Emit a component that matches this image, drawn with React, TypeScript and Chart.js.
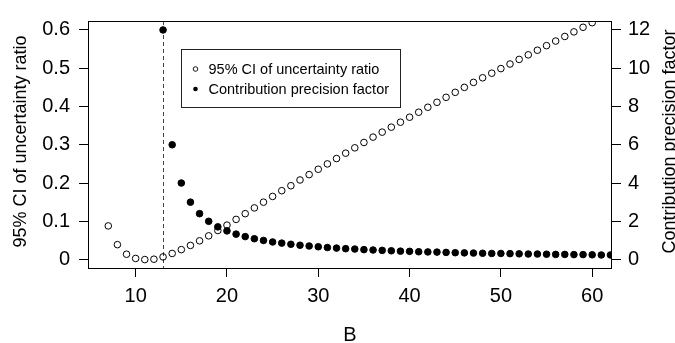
import React, { useEffect, useRef } from "react";
import { Chart, registerables } from "chart.js";

Chart.register(...registerables);

// ---- data ----
const B_CI = [
  7, 8, 9, 10, 11, 12, 13, 14, 15, 16, 17, 18, 19, 20, 21, 22, 23, 24, 25, 26,
  27, 28, 29, 30, 31, 32, 33, 34, 35, 36, 37, 38, 39, 40, 41, 42, 43, 44, 45, 46,
  47, 48, 49, 50, 51, 52, 53, 54, 55, 56, 57, 58, 59, 60, 61, 62,
];
const CI_RATIO = [
  0.088, 0.039, 0.014, 0.003, 0.0, 0.001, 0.007, 0.016, 0.026, 0.037, 0.049, 0.062,
  0.076, 0.09, 0.105, 0.12, 0.135, 0.15, 0.165, 0.18, 0.193, 0.208, 0.222, 0.236,
  0.25, 0.264, 0.278, 0.292, 0.306, 0.32, 0.333, 0.346, 0.359, 0.372, 0.385, 0.398,
  0.411, 0.424, 0.437, 0.45, 0.463, 0.475, 0.487, 0.499, 0.511, 0.523, 0.535, 0.547,
  0.559, 0.571, 0.583, 0.595, 0.607, 0.619, 0.631, 0.643,
];
const B_CPF = [
  13, 14, 15, 16, 17, 18, 19, 20, 21, 22, 23, 24, 25, 26, 27, 28, 29, 30, 31, 32,
  33, 34, 35, 36, 37, 38, 39, 40, 41, 42, 43, 44, 45, 46, 47, 48, 49, 50, 51, 52,
  53, 54, 55, 56, 57, 58, 59, 60, 61, 62,
];
const CPF = [
  12, 6, 4, 3, 2.4, 2, 1.71, 1.5, 1.33, 1.2, 1.09, 1.0, 0.92, 0.86, 0.8, 0.75, 0.71,
  0.67, 0.63, 0.6, 0.57, 0.55, 0.52, 0.5, 0.48, 0.46, 0.44, 0.43, 0.41, 0.4, 0.39,
  0.375, 0.36, 0.35, 0.34, 0.33, 0.32, 0.32, 0.31, 0.3, 0.29, 0.29, 0.28, 0.27, 0.27,
  0.26, 0.26, 0.25, 0.24, 0.24,
];
const CUTOFF_B = 13;
const LEGEND_LABELS = ["95% CI of uncertainty ratio", "Contribution precision factor"];
const LEGEND_AT = { x: 15, y: 0.55 };
const X_TITLE = "B";
const Y_TITLE = "95% CI of uncertainty ratio";
const Y1_TITLE = "Contribution precision factor";

const FAMILY = "'Liberation Sans', Arial, Helvetica, sans-serif";

const decor = {
  id: "decor",
  beforeDatasetsDraw(chart: any) {
    const { ctx, chartArea, scales } = chart;
    const x = Math.round(scales.x.getPixelForValue(CUTOFF_B)) + 0.5;
    ctx.save();
    ctx.strokeStyle = "#444";
    ctx.lineWidth = 1;
    ctx.setLineDash([4, 3]);
    ctx.beginPath();
    ctx.moveTo(x, chartArea.top);
    ctx.lineTo(x, chartArea.bottom);
    ctx.stroke();
    ctx.restore();
  },
  afterDraw(chart: any) {
    const { ctx, chartArea, scales } = chart;
    ctx.save();
    // box
    ctx.strokeStyle = "#000";
    ctx.lineWidth = 1;
    const l = Math.round(chartArea.left) + 0.5;
    const t = Math.round(chartArea.top) + 0.5;
    const r = Math.round(chartArea.right) - 0.5;
    const b = Math.round(chartArea.bottom) + 0.5;
    ctx.strokeRect(l, t, r - l, b - t);

    // legend
    const lx = Math.round(scales.x.getPixelForValue(LEGEND_AT.x)) + 0.5;
    const ly = Math.round(scales.y.getPixelForValue(LEGEND_AT.y)) + 0.5;
    const lw = 219;
    const lh = 58;
    ctx.fillStyle = "#fff";
    ctx.fillRect(lx, ly, lw, lh);
    ctx.strokeStyle = "#222";
    ctx.strokeRect(lx, ly, lw, lh);
    ctx.font = `14.5px ${FAMILY}`;
    ctx.textAlign = "left";
    ctx.textBaseline = "middle";
    const rows = [ly + 19.5, ly + 39.5];
    rows.forEach((yy, i) => {
      ctx.beginPath();
      ctx.arc(lx + 14, yy, 2.3, 0, Math.PI * 2);
      if (i === 0) {
        ctx.strokeStyle = "#000";
        ctx.lineWidth = 0.9;
        ctx.stroke();
      } else {
        ctx.fillStyle = "#000";
        ctx.fill();
      }
      ctx.fillStyle = "#000";
      ctx.fillText(LEGEND_LABELS[i], lx + 27, yy + 0.5);
    });

    // titles
    ctx.fillStyle = "#000";
    ctx.textBaseline = "alphabetic";
    ctx.textAlign = "center";
    ctx.font = `20px ${FAMILY}`;
    ctx.fillText(X_TITLE, (chartArea.left + chartArea.right) / 2, 341);

    ctx.font = `18px ${FAMILY}`;
    ctx.save();
    ctx.translate(26, 141.5);
    ctx.rotate(-Math.PI / 2);
    ctx.fillText(Y_TITLE, 0, 0);
    ctx.restore();

    ctx.save();
    ctx.translate(674.5, 141.5);
    ctx.rotate(-Math.PI / 2);
    ctx.fillText(Y1_TITLE, 0, 0);
    ctx.restore();

    ctx.restore();
  },
};

export default function App() {
  const ref = useRef<HTMLCanvasElement>(null);

  useEffect(() => {
    if (!ref.current) return;
    const tickFont = { family: FAMILY, size: 20 };
    const grid = {
      drawOnChartArea: false,
      drawTicks: true,
      tickLength: 9,
      color: "#000",
      lineWidth: 1,
    };
    const chart = new Chart(ref.current, {
      type: "scatter",
      data: {
        datasets: [
          {
            label: LEGEND_LABELS[0],
            data: B_CI.map((b, i) => ({ x: b, y: CI_RATIO[i] })),
            yAxisID: "y",
            pointStyle: "circle",
            pointRadius: 3.3,
            pointBorderWidth: 1,
            pointBorderColor: "#000",
            pointBackgroundColor: "rgba(0,0,0,0)",
            order: 1,
          },
          {
            label: LEGEND_LABELS[1],
            data: B_CPF.map((b, i) => ({ x: b, y: CPF[i] })),
            yAxisID: "y1",
            pointStyle: "circle",
            pointRadius: 3.3,
            pointBorderWidth: 1,
            pointBorderColor: "#000",
            pointBackgroundColor: "#000",
            order: 0,
          },
        ],
      },
      options: {
        animation: false,
        responsive: true,
        maintainAspectRatio: false,
        events: [],
        layout: { padding: { top: 11, left: 0, right: 0, bottom: 0 } },
        plugins: { legend: { display: false }, tooltip: { enabled: false } },
        scales: {
          x: {
            type: "linear",
            position: "bottom",
            min: 4.78,
            max: 62.17,
            ticks: {
              stepSize: 10,
              includeBounds: false,
              color: "#000",
              font: tickFont,
              padding: 7,
              maxRotation: 0,
            },
            grid,
            border: { display: false },
            afterFit: (s: any) => {
              s.height = 75;
            },
          },
          y: {
            type: "linear",
            position: "left",
            min: -0.022,
            max: 0.6234,
            ticks: {
              stepSize: 0.1,
              includeBounds: false,
              color: "#000",
              font: tickFont,
              padding: 9,
              callback: (v: any) => String(Number(Number(v).toFixed(1))),
            },
            grid,
            border: { display: false },
            afterFit: (s: any) => {
              s.width = 88;
            },
          },
          y1: {
            type: "linear",
            position: "right",
            min: -0.44,
            max: 12.468,
            ticks: {
              stepSize: 2,
              includeBounds: false,
              color: "#000",
              font: tickFont,
              padding: 7,
              callback: (v: any) => String(Math.round(Number(v))),
            },
            grid,
            border: { display: false },
            afterFit: (s: any) => {
              s.width = 63;
            },
          },
        },
      },
      plugins: [decor],
    } as any);
    return () => chart.destroy();
  }, []);

  return (
    <div
      style={{
        position: "fixed",
        left: 0,
        top: 0,
        width: 675,
        height: 343,
        background: "#fff",
      }}
    >
      <canvas ref={ref} />
    </div>
  );
}
